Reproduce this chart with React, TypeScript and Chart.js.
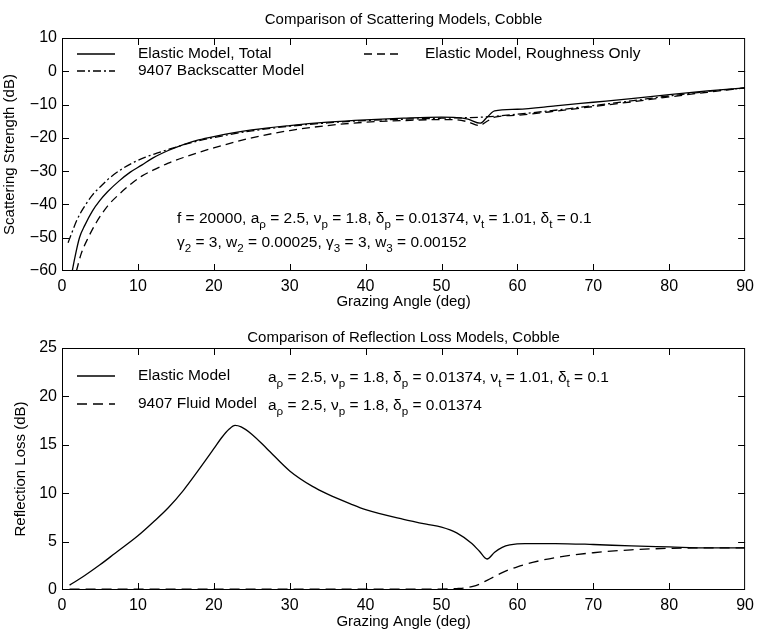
import React, { useEffect, useRef } from 'react';
import { Chart, registerables } from 'chart.js';

Chart.register(...registerables);

const FONT = '"Liberation Sans", Arial, Helvetica, sans-serif';

// ---- Scattering strength (dB) vs grazing angle (deg) ----
const totalAngle = [1.35, 1.6, 2.3, 3, 4, 5, 6, 7.5, 9, 10.5, 12, 14, 16, 18, 20, 25, 30, 35, 40, 45, 50, 52, 53.5, 55.1, 56, 57, 60, 65, 70, 75, 80, 85, 90];
const totalDb = [-60, -57, -50, -46.3, -42, -38.8, -36.2, -33, -30.3, -28.2, -26, -23.8, -22, -20.6, -19.6, -17.6, -16.3, -15.3, -14.6, -14.1, -13.8, -13.9, -14.4, -15.6, -13.8, -11.9, -11.4, -10.4, -9.3, -8.2, -7.0, -5.9, -5.0];

const roughAngle = [1.9, 2.5, 3.45, 4.5, 6, 7.5, 9, 10.5, 12, 14, 16, 18, 20, 25, 30, 35, 40, 45, 50, 52, 53.5, 55, 56, 57, 60, 65, 70, 75, 80, 85, 90];
const roughDb = [-60, -55, -50, -45.5, -40.5, -37, -34, -31.5, -29.7, -27.6, -25.9, -24.4, -23, -20, -17.8, -16.3, -15.3, -14.8, -14.5, -14.6, -15.2, -16.3, -15.0, -13.8, -13.2, -12.0, -10.6, -9.2, -7.7, -6.3, -5.0];

const backAngle = [0.8, 1.3, 2, 2.8, 4, 5, 6.3, 8, 9.5, 11, 12.5, 14, 16, 18, 20, 25, 30, 35, 40, 45, 50, 55, 57, 60, 65, 70, 75, 80, 85, 90];
const backDb = [-51.5, -48.5, -44.5, -41.2, -37.2, -34.8, -32, -29.2, -27.3, -25.8, -24.6, -23.5, -22.1, -20.9, -19.9, -17.9, -16.5, -15.5, -14.8, -14.4, -14.1, -13.8, -13.5, -12.9, -11.7, -10.3, -8.9, -7.4, -6.1, -5.0];

// ---- Reflection loss (dB) vs grazing angle (deg) ----
const elasticLossAngle = [1, 3, 5, 7, 10, 12, 14, 16, 18, 19, 20, 21, 22, 22.8, 23.6, 25, 27, 30, 33, 35, 38, 40, 45, 48, 50, 52, 54, 55, 56, 57, 58, 59, 61, 65, 70, 75, 80, 85, 90];
const elasticLossDb = [0.5, 1.5, 2.6, 3.8, 5.6, 7.0, 8.5, 10.3, 12.4, 13.5, 14.6, 15.7, 16.6, 17.0, 16.85, 16.1, 14.6, 12.3, 10.7, 9.9, 8.9, 8.3, 7.3, 6.8, 6.5, 5.9, 4.8, 4.0, 3.2, 3.9, 4.4, 4.65, 4.8, 4.8, 4.7, 4.55, 4.45, 4.35, 4.35];

const fluidLossAngle = [1, 10, 20, 30, 40, 50, 52, 53, 54, 55, 56, 57, 58, 60, 62, 65, 70, 75, 80, 85, 90];
const fluidLossDb = [0.1, 0.1, 0.1, 0.1, 0.1, 0.1, 0.15, 0.2, 0.35, 0.6, 1.0, 1.4, 1.8, 2.4, 2.85, 3.35, 3.85, 4.15, 4.3, 4.35, 4.35];

// ---- Text ----
const topTitle = 'Comparison of Scattering Models, Cobble';
const bottomTitle = 'Comparison of Reflection Loss Models, Cobble';
const xTitle = 'Grazing Angle (deg)';
const topYTitle = 'Scattering Strength (dB)';
const bottomYTitle = 'Reflection Loss (dB)';

type Seg = [string, boolean?];

const elasticParams: Seg[] = [
  ['a'], ['ρ', true], [' = 2.5, ν'], ['p', true], [' = 1.8, δ'], ['p', true],
  [' = 0.01374, ν'], ['t', true], [' = 1.01, δ'], ['t', true], [' = 0.1'],
];
const fluidParams: Seg[] = [
  ['a'], ['ρ', true], [' = 2.5, ν'], ['p', true], [' = 1.8, δ'], ['p', true], [' = 0.01374'],
];
const noteLine1: Seg[] = [['f = 20000, '] as Seg, ...elasticParams];
const noteLine2: Seg[] = [
  ['γ'], ['2', true], [' = 3, w'], ['2', true], [' = 0.00025, γ'], ['3', true],
  [' = 3, w'], ['3', true], [' = 0.00152'],
];

const SOLID: number[] = [];
const DASH = [8, 5];
const DASH_DOT = [8, 3, 2, 3];
const LONG_DASH = [10, 6];

function series(xs: number[], ys: number[]) {
  return xs.map((x, i) => ({ x, y: ys[i] }));
}

function drawRich(ctx: CanvasRenderingContext2D, segs: Seg[], x: number, y: number, size: number) {
  let cx = x;
  ctx.textAlign = 'left';
  ctx.textBaseline = 'alphabetic';
  for (const [t, sub] of segs) {
    const s = sub ? size * 0.75 : size;
    ctx.font = `${s}px ${FONT}`;
    ctx.fillText(t, cx, sub ? y + size * 0.38 : y);
    cx += ctx.measureText(t).width;
  }
}

type LegendItem = { dash: number[]; x: number; y: number; label: string; params?: Seg[] };
type Note = { segs: Seg[]; x: number; y: number };

function decorPlugin(title: string, titleY: number, legend: LegendItem[], notes: Note[]) {
  return {
    id: 'decor',
    afterDraw(chart: any) {
      const ctx: CanvasRenderingContext2D = chart.ctx;
      const { left, right, top, bottom } = chart.chartArea;
      const xs = chart.scales.x;
      const ys = chart.scales.y;
      ctx.save();
      ctx.strokeStyle = '#000';
      ctx.fillStyle = '#000';
      ctx.lineWidth = 1;
      ctx.setLineDash([]);
      // frame
      ctx.strokeRect(left + 0.5, top + 0.5, right - left - 1, bottom - top - 1);
      // inward ticks on all four sides
      const tl = 7;
      ctx.beginPath();
      xs.ticks.forEach((t: any) => {
        const px = Math.round(xs.getPixelForValue(t.value)) + 0.5;
        if (px <= left + 1 || px >= right - 1) return;
        ctx.moveTo(px, bottom); ctx.lineTo(px, bottom - tl);
        ctx.moveTo(px, top); ctx.lineTo(px, top + tl);
      });
      ys.ticks.forEach((t: any) => {
        const py = Math.round(ys.getPixelForValue(t.value)) + 0.5;
        if (py <= top + 1 || py >= bottom - 1) return;
        ctx.moveTo(left, py); ctx.lineTo(left + tl, py);
        ctx.moveTo(right, py); ctx.lineTo(right - tl, py);
      });
      ctx.stroke();
      // title
      ctx.font = `15px ${FONT}`;
      ctx.textAlign = 'center';
      ctx.textBaseline = 'middle';
      ctx.fillText(title, (left + right) / 2, titleY);
      // legend
      legend.forEach((it) => {
        ctx.setLineDash(it.dash);
        ctx.lineWidth = 1.3;
        ctx.beginPath();
        ctx.moveTo(it.x, it.y);
        ctx.lineTo(it.x + 38, it.y);
        ctx.stroke();
        ctx.setLineDash([]);
        ctx.font = `15.5px ${FONT}`;
        ctx.textAlign = 'left';
        ctx.textBaseline = 'middle';
        ctx.fillText(it.label, it.x + 61, it.y);
        if (it.params) drawRich(ctx, it.params, 268, it.y + 5.5, 15.5);
      });
      notes.forEach((n) => drawRich(ctx, n.segs, n.x, n.y, 15.5));
      ctx.restore();
    },
  };
}

function tickLabel(v: number) {
  return v < 0 ? '\u2212' + Math.abs(v) : String(v);
}

function makeOptions(yMin: number, yMax: number, yStep: number, yTitle: string, yTitlePad: number, topPad: number, xHeight: number, xTitlePad: number) {
  return {
    animation: false as const,
    responsive: false,
    events: [] as any[],
    layout: { padding: { left: 0, right: 12, top: topPad, bottom: 0 } },
    elements: { point: { radius: 0 }, line: { borderWidth: 1.3, cubicInterpolationMode: 'monotone' as const } },
    plugins: { legend: { display: false }, tooltip: { enabled: false }, title: { display: false } },
    scales: {
      x: {
        type: 'linear' as const,
        min: 0,
        max: 90,
        grid: { display: false, drawTicks: false },
        border: { display: false },
        ticks: { stepSize: 10, padding: 6, color: '#000', font: { family: FONT, size: 16 }, maxRotation: 0 },
        title: { display: true, text: xTitle, color: '#000', font: { family: FONT, size: 15 }, padding: { top: 0, bottom: xTitlePad } },
        afterFit: (s: any) => { s.height = xHeight; },
      },
      y: {
        type: 'linear' as const,
        min: yMin,
        max: yMax,
        grid: { display: false, drawTicks: false },
        border: { display: false },
        ticks: { stepSize: yStep, padding: 5, color: '#000', font: { family: FONT, size: 16 }, callback: (v: any) => tickLabel(Number(v)) },
        title: { display: true, text: yTitle, color: '#000', font: { family: FONT, size: 15 }, padding: { top: yTitlePad, bottom: 0 } },
        afterFit: (s: any) => { s.width = 62; },
      },
    },
  };
}

function lineSet(label: string, data: { x: number; y: number }[], dash: number[]) {
  return { label, data, borderColor: '#000', backgroundColor: '#000', borderDash: dash, fill: false };
}

export default function App() {
  const topRef = useRef<HTMLCanvasElement>(null);
  const bottomRef = useRef<HTMLCanvasElement>(null);

  useEffect(() => {
    const top = new Chart(topRef.current!, {
      type: 'line',
      data: {
        datasets: [
          lineSet('Elastic Model, Total', series(totalAngle, totalDb), SOLID),
          lineSet('Elastic Model, Roughness Only', series(roughAngle, roughDb), DASH),
          lineSet('9407 Backscatter Model', series(backAngle, backDb), DASH_DOT),
        ],
      },
      options: makeOptions(-60, 10, 10, topYTitle, 1, 38, 44, 4) as any,
      plugins: [
        decorPlugin(topTitle, 20, [
          { dash: SOLID, x: 77, y: 54, label: 'Elastic Model, Total' },
          { dash: DASH_DOT, x: 77, y: 71, label: '9407 Backscatter Model' },
          { dash: DASH, x: 364, y: 54, label: 'Elastic Model, Roughness Only' },
        ], [
          { segs: noteLine1, x: 177, y: 222.5 },
          { segs: noteLine2, x: 177, y: 246.5 },
        ]),
      ],
    });

    const bottom = new Chart(bottomRef.current!, {
      type: 'line',
      data: {
        datasets: [
          lineSet('Elastic Model', series(elasticLossAngle, elasticLossDb), SOLID),
          lineSet('9407 Fluid Model', series(fluidLossAngle, fluidLossDb), LONG_DASH),
        ],
      },
      options: makeOptions(0, 25, 5, bottomYTitle, 12, 33, 41, 0) as any,
      plugins: [
        decorPlugin(bottomTitle, 23, [
          { dash: SOLID, x: 77, y: 61, label: 'Elastic Model', params: elasticParams },
          { dash: LONG_DASH, x: 77, y: 89, label: '9407 Fluid Model', params: fluidParams },
        ], []),
      ],
    });

    return () => {
      top.destroy();
      bottom.destroy();
    };
  }, []);

  return (
    <div style={{ position: 'absolute', left: 0, top: 0, width: 760, height: 631, background: '#fff' }}>
      <canvas ref={topRef} width={760} height={315} style={{ display: 'block', width: 760, height: 315 }} />
      <canvas ref={bottomRef} width={760} height={316} style={{ display: 'block', width: 760, height: 316 }} />
    </div>
  );
}
